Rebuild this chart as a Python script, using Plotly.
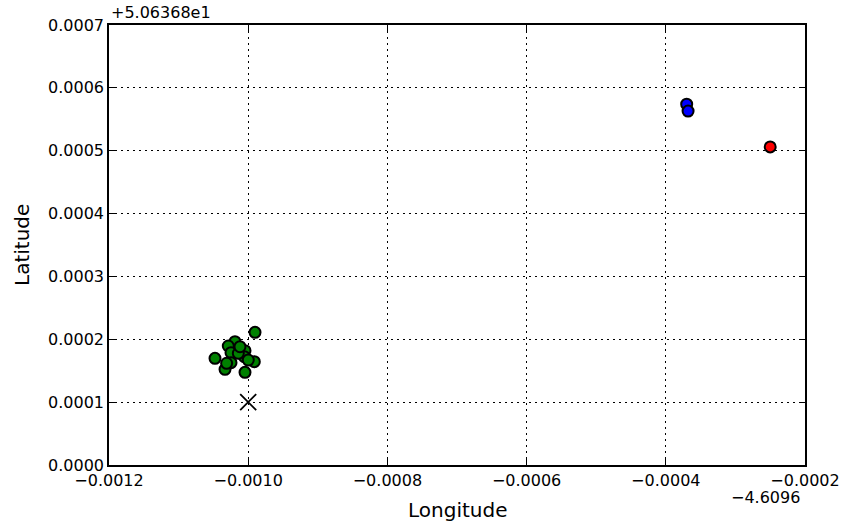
import plotly.graph_objects as go

# Offsets applied to both axes (values below are relative to these)
lon_offset_label = "\u22124.6096"
lat_offset_label = "+5.06368e1"

# Cluster of fixes (green)
green_dlon = [-0.0009902, -0.0010477, -0.0010333, -0.0010046, -0.0009912, -0.0010190,
              -0.0010286, -0.0010247, -0.0010046, -0.0010247, -0.0010056, -0.0010142,
              -0.0010310, -0.0009999, -0.0010118]
green_dlat = [0.0002111, 0.0001697, 0.0001522, 0.0001474, 0.0001644, 0.0001962,
              0.0001893, 0.0001787, 0.0001819, 0.0001628, 0.0001723, 0.0001777,
              0.0001618, 0.0001670, 0.0001882]

# Secondary fixes (blue)
blue_dlon = [-0.000370, -0.000368]
blue_dlat = [0.000574, 0.000563]

# Outlier fix (red)
red_dlon = [-0.000250]
red_dlat = [0.000506]

# Reference location (cross)
ref_dlon = [-0.0010]
ref_dlat = [0.0001]

x_ticks = [-0.0012, -0.0010, -0.0008, -0.0006, -0.0004, -0.0002]
y_ticks = [0.0, 0.0001, 0.0002, 0.0003, 0.0004, 0.0005, 0.0006, 0.0007]

FONT = "DejaVu Sans"

def circles(x, y, color):
    return go.Scatter(
        x=x, y=y, mode="markers",
        marker=dict(symbol="circle", size=11, color=color,
                    line=dict(color="black", width=2)),
        showlegend=False, hoverinfo="x+y",
    )

fig = go.Figure()
fig.add_trace(circles(green_dlon, green_dlat, "#008000"))
fig.add_trace(circles(blue_dlon, blue_dlat, "#0000ff"))
fig.add_trace(circles(red_dlon, red_dlat, "#ff0000"))
fig.add_trace(go.Scatter(
    x=ref_dlon, y=ref_dlat, mode="markers",
    marker=dict(symbol="x-thin", size=16, color="black",
                line=dict(color="black", width=1.8)),
    showlegend=False,
))

axis_common = dict(
    showline=True, linecolor="black", linewidth=1.5, mirror="ticks",
    ticks="inside", ticklen=6, tickwidth=1, tickcolor="black",
    showgrid=True, gridcolor="black", gridwidth=1, griddash="2px,4px",
    zeroline=False, automargin=False,
    tickfont=dict(family=FONT, size=16, color="black"),
)

fig.update_xaxes(range=[x_ticks[0], x_ticks[-1]], tickvals=x_ticks,
                 tickformat=".4f", **axis_common)
fig.update_yaxes(range=[y_ticks[0], y_ticks[-1]], tickvals=y_ticks,
                 tickformat=".4f", **axis_common)

fig.update_layout(
    width=843, height=521,
    margin=dict(l=109, r=38, t=25, b=56, autoexpand=False),
    plot_bgcolor="white", paper_bgcolor="white",
    font=dict(family=FONT, color="black"),
    annotations=[
        dict(text="Longitude", xref="paper", yref="paper", x=0.5, y=0,
             yshift=-45, showarrow=False, font=dict(size=20),
             xanchor="center", yanchor="middle"),
        dict(text="Latitude", xref="paper", yref="paper", x=0, y=0.5,
             xshift=-87, textangle=-90, showarrow=False, font=dict(size=20),
             xanchor="center", yanchor="middle"),
        dict(text=lat_offset_label, xref="paper", yref="paper", x=0, y=1,
             yshift=13, showarrow=False, font=dict(size=16),
             xanchor="left", yanchor="middle"),
        dict(text=lon_offset_label, xref="paper", yref="paper", x=1, y=0,
             yshift=-32, xshift=-3, showarrow=False, font=dict(size=16),
             xanchor="right", yanchor="middle"),
    ],
)

fig.write_html("out.html")
